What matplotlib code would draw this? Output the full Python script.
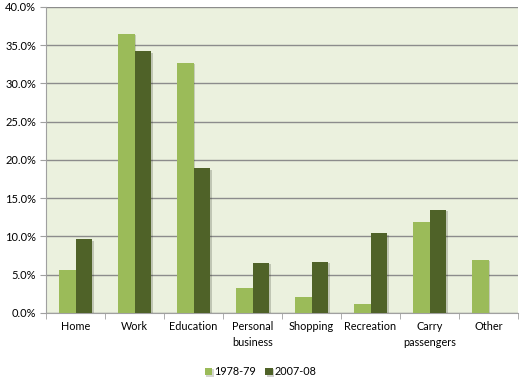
import numpy as np
import matplotlib
matplotlib.use("Agg")
import matplotlib.pyplot as plt
import matplotlib.patheffects as pe
from matplotlib.ticker import FuncFormatter, FixedLocator

# Trip purpose shares
categories = ["Home", "Work", "Education", "Personal\nbusiness", "Shopping",
              "Recreation", "Carry\npassengers", "Other"]
share_1978 = [5.6, 36.5, 32.7, 3.3, 2.1, 1.1, 11.9, 6.9]
share_2007 = [9.6, 34.2, 18.9, 6.5, 6.7, 10.4, 13.5, 0.0]
series_names = ["1978-79", "2007-08"]

light = "#9bbb59"
dark = "#4f6228"

plt.rcParams['font.family'] = ['Lato', 'DejaVu Sans']

fig = plt.figure(figsize=(5.32, 3.80), dpi=100)
ax = fig.add_axes([0.0865, 0.177, 0.8872, 0.8046])
ax.set_facecolor("#ebf1de")

x = np.arange(len(categories))
w = 0.277
shadow = [pe.SimplePatchShadow(offset=(1.2, -1), alpha=0.2), pe.Normal()]
b1 = ax.bar(x - w / 2, share_1978, w, color=light, label=series_names[0], zorder=3)
b2 = ax.bar(x + w / 2, share_2007, w, color=dark, label=series_names[1], zorder=3)
for b in list(b1) + list(b2):
    b.set_path_effects(shadow)

ax.set_xlim(-0.5, len(categories) - 0.5)
ax.set_ylim(0, 40)
ax.set_yticks(np.arange(0, 41, 5))
ax.yaxis.set_major_formatter(FuncFormatter(lambda v, p: "%.1f%%" % v))
ax.grid(axis="y", color="#8c8c8c", linewidth=1, zorder=1)
ax.set_axisbelow(True)

ax.set_xticks(x)
ax.set_xticklabels(categories, fontsize=7.8, linespacing=1.5)
ax.xaxis.set_minor_locator(FixedLocator(np.arange(-0.5, len(categories), 1)))
ax.tick_params(axis="x", which="major", length=0, pad=6)
ax.tick_params(axis="x", which="minor", length=4, color="#a0a0a0")
ax.tick_params(axis="y", length=4, color="#a0a0a0", labelsize=8, pad=3)

for s in ["top", "right"]:
    ax.spines[s].set_visible(False)
ax.spines["left"].set_color("#a0a0a0")
ax.spines["bottom"].set_color("#a0a0a0")

fig.legend(handles=[b1, b2], labels=series_names, loc="center",
           bbox_to_anchor=(0.49, 0.022), ncol=2, frameon=False,
           fontsize=7.8, handlelength=0.7, handleheight=0.7, handletextpad=0.2,
           columnspacing=0.8, borderpad=0)

fig.savefig("out.png", dpi=100)
